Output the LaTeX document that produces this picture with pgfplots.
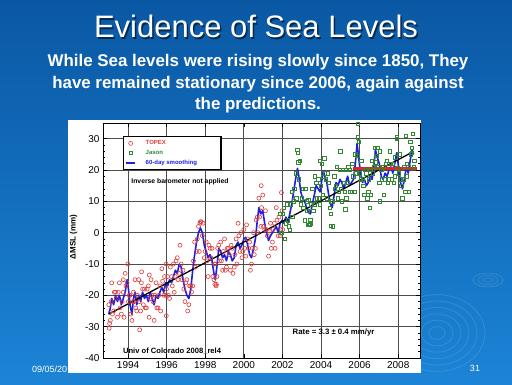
\documentclass[border=0pt]{standalone}
\usepackage{pgfplots}
\pgfplotsset{compat=1.18}
\usepackage{fontspec}
\setmainfont{Liberation Sans}
\definecolor{bgtop}{RGB}{10,88,164}
\definecolor{bgbot}{RGB}{28,132,214}
\definecolor{topex}{RGB}{222,60,60}
\definecolor{jason}{RGB}{50,135,50}
\definecolor{smoothblue}{RGB}{30,30,225}
\definecolor{rateline}{RGB}{225,35,35}
\begin{document}
\begin{tikzpicture}
\shade[top color=bgtop, bottom color=bgbot] (0,0) rectangle (512pt,384pt);
\begin{scope}[white, opacity=0.12, line width=0.8pt]
\foreach \r in {8,16,24,32,40,48} {\draw (437pt,51pt) ellipse ({\r pt} and {0.8*\r pt});}
\foreach \r in {5,10,15} {\draw (488pt,104pt) ellipse ({\r pt} and {0.45*\r pt});}
\end{scope}
\node[anchor=base west, text=white, font=\fontsize{9}{10}\selectfont, inner sep=0pt] at (32pt,12pt) {09/05/20};
\node[anchor=base, text=white, font=\fontsize{9}{10}\selectfont, inner sep=0pt] at (475pt,13pt) {31};
\fill[white] (68pt,11pt) rectangle (421pt,264pt);
\node[anchor=base, text=black, opacity=0.55, font=\fontsize{31}{36}\selectfont, inner sep=0pt] at (257.5pt,344.5pt) {Evidence of Sea Levels};
\node[anchor=base, text=white, font=\fontsize{31}{36}\selectfont, inner sep=0pt] at (256pt,346pt) {Evidence of Sea Levels};
\node[anchor=base, text=white, font=\bfseries\fontsize{16.9}{18}\selectfont, inner sep=0pt] at (258pt,318pt) {While Sea levels were rising slowly since 1850, They};
\node[anchor=base, text=white, font=\bfseries\fontsize{16.9}{18}\selectfont, inner sep=0pt] at (258pt,296pt) {have remained stationary since 2006, again against};
\node[anchor=base, text=white, font=\bfseries\fontsize{16.9}{18}\selectfont, inner sep=0pt] at (258pt,275pt) {the predictions.};
\begin{axis}[
  at={(103pt,26pt)}, anchor=south west, scale only axis,
  width=317pt, height=235pt,
  xmin=1992.7, xmax=2009.13, ymin=-40, ymax=35,
  xtick={1994,1996,...,2008}, ytick={-40,-30,...,30},
  minor x tick num=7, minor y tick num=4,
  xmajorgrids, ymajorgrids,
  major grid style={draw=black!70, line width=0.7pt},
  axis line style={line width=0.8pt},
  every tick/.style={black, line width=0.6pt},
  major tick length=4pt, minor tick length=2pt,
  tick align=inside,
  ticklabel style={font=\fontsize{10}{11}\selectfont},
  /pgf/number format/assume math mode=true,
  /pgf/number format/1000 sep={},
  ylabel={ΔMSL (mm)},
  ylabel style={font=\bfseries\fontsize{8}{9}\selectfont, at={(axis description cs:-0.093,0.515)}, anchor=center},
  legend style={at={(rel axis cs:0.063,0.945)}, anchor=north west, draw=black, line width=1.2pt,
    font=\bfseries\fontsize{6}{7}\selectfont, row sep=0pt, inner sep=2pt,
    /tikz/every odd column/.append style={column sep=8pt}},
  legend cell align=left,
]
\addplot[only marks, mark=o, mark size=2pt, mark options={draw=topex, line width=0.6pt}] coordinates {
(1993.00,-23) (1993.08,-28) (1993.15,-16) (1993.25,-25) (1993.35,-19) (1993.45,-27) (1993.55,-16) (1993.65,-26) (1993.75,-19) (1993.85,-13)
(1993.95,-16) (1994.02,-22) (1994.10,-20) (1994.20,-28) (1994.28,-19) (1994.36,-15) (1994.45,-25) (1994.55,-15) (1994.65,-25) (1994.75,-18)
(1994.85,-18) (1994.95,-24) (1995.05,-17) (1995.15,-21) (1995.25,-20) (1995.35,-28) (1995.45,-16) (1995.55,-24) (1995.65,-17) (1995.75,-11.5)
(1995.85,-20) (1995.95,-20) (1996.05,-14) (1996.15,-21) (1996.25,-14) (1996.35,-10) (1996.45,-14) (1996.55,-8) (1996.65,-13) (1996.75,-10)
(1996.85,-12) (1996.95,-22) (1997.05,-15) (1997.15,-23) (1997.25,-17) (1997.35,-17) (1997.45,-3) (1997.55,-6) (1997.65,2) (1997.75,3.5)
(1997.85,-1) (1997.95,-8) (1998.05,-3) (1998.15,-14) (1998.25,-5) (1998.35,-5) (1998.45,-15) (1998.52,-10) (1998.60,-14) (1998.70,-4)
(1998.80,-3) (1998.90,-12) (1999.00,-2) (1999.10,-11) (1999.20,-5) (1999.30,-12) (1999.40,-5) (1999.50,-11) (1999.60,-2) (1999.70,3)
(1999.80,-6) (1999.90,-8) (2000.00,1) (2000.10,-7.5) (2000.20,-2) (2000.30,-3) (2000.40,-10) (2000.50,0) (2000.60,-5) (2000.70,5)
(2000.78,11) (2000.88,2) (2000.98,12) (2001.08,1) (2001.18,1) (2001.28,-7.5) (2001.38,3) (2001.48,-3) (2001.58,3) (2001.68,8)
(2001.78,-1) (2001.88,-1) (2001.98,7)
(1993.04,-29) (1993.12,-22) (1993.19,-26) (1993.29,-19) (1993.39,-21) (1993.49,-19) (1993.59,-24) (1993.69,-22) (1993.79,-27) (1993.89,-17)
(1993.99,-10) (1994.06,-20) (1994.14,-26) (1994.24,-22) (1994.32,-22) (1994.40,-24) (1994.49,-20) (1994.59,-22) (1994.69,-16) (1994.79,-23)
(1994.89,-24) (1994.99,-18) (1995.09,-27) (1995.19,-15) (1995.29,-22) (1995.39,-20) (1995.49,-24) (1995.59,-20) (1995.69,-25) (1995.79,-15.5)
(1995.89,-14) (1995.99,-18) (1996.09,-20) (1996.19,-11) (1996.29,-17) (1996.39,-19) (1996.49,-9) (1996.59,-15) (1996.69,-4) (1996.79,-15)
(1996.89,-18) (1996.99,-16) (1997.09,-25) (1997.19,-17) (1997.29,-19) (1997.39,-9) (1997.49,-11) (1997.59,-2) (1997.69,-6) (1997.79,3.5)
(1997.89,3) (1997.99,-6) (1998.09,-9) (1998.19,-4) (1998.29,-8) (1998.39,-14) (1998.49,-10) (1998.56,-17) (1998.64,-5) (1998.74,-9)
(1998.84,-9) (1998.94,-6) (1999.04,-12) (1999.14,-5) (1999.24,-7) (1999.34,-4) (1999.44,-13) (1999.54,-7) (1999.64,-10) (1999.74,-1)
(1999.84,0) (1999.94,-6) (2000.04,-5) (2000.14,2.5) (2000.24,-5) (2000.34,-12) (2000.44,-5) (2000.54,-7) (2000.64,4) (2000.74,0)
(2000.82,5) (2000.92,8) (2001.02,2) (2001.12,7) (2001.22,-1) (2001.32,0.5) (2001.42,-5) (2001.52,1) (2001.62,-5) (2001.72,4)
(2001.82,5) (2001.92,1) (2002.02,1)
(1993.02,-30.5) (1994.60,-31) (1995.98,-26.5) (1995.97,-10) (2000.90,15) (2001.95,12.8) (1997.72,3) (1998.58,-16.5)
(1994.70,-12.5) (1995.10,-13.5) (1993.75,-15) (1998.50,-16.5)
};
\addlegendentry{\textcolor{topex}{TOPEX}}
\addplot[only marks, mark=square, mark size=1.7pt, mark options={draw=jason, line width=0.6pt}] coordinates {
(2001.88,6) (2001.98,0) (2002.08,8) (2002.18,3) (2002.28,4) (2002.38,1) (2002.48,13) (2002.58,10) (2002.68,19) (2002.78,26.5)
(2002.85,17) (2002.95,9) (2003.05,14) (2003.15,4) (2003.25,10) (2003.35,10.5) (2003.45,4) (2003.55,14) (2003.65,9) (2003.75,16)
(2003.85,17) (2003.95,9) (2004.05,22) (2004.12,17.8) (2004.20,19) (2004.30,11) (2004.40,16) (2004.50,6) (2004.58,10) (2004.68,18)
(2004.78,15) (2004.88,11) (2004.98,20) (2005.08,10) (2005.18,16) (2005.28,20) (2005.38,16) (2005.48,20) (2005.58,13) (2005.68,18)
(2005.78,25) (2005.87,24.5) (2005.95,29) (2006.05,17) (2006.15,17) (2006.25,12) (2006.35,19) (2006.45,13) (2006.55,20) (2006.65,23)
(2006.75,21) (2006.82,22.5) (2006.92,27) (2007.02,16) (2007.12,20) (2007.22,21) (2007.32,17) (2007.42,23) (2007.52,17) (2007.62,22)
(2007.72,22) (2007.82,18) (2007.92,30.5) (2008.02,19) (2008.12,17) (2008.22,11) (2008.32,21) (2008.42,18) (2008.52,21) (2008.62,29)
(2008.72,25.5) (2008.80,21)
(2001.92,0) (2002.02,6) (2002.12,-2) (2002.22,9) (2002.32,2) (2002.42,9) (2002.52,5) (2002.62,14) (2002.72,11) (2002.82,22.5)
(2002.89,23) (2002.99,11) (2003.09,8) (2003.19,14) (2003.29,7) (2003.39,2.5) (2003.49,9) (2003.59,7) (2003.69,18) (2003.79,11)
(2003.89,11) (2003.99,15) (2004.09,12) (2004.16,23.8) (2004.24,17) (2004.34,19) (2004.44,8) (2004.54,10) (2004.62,2) (2004.72,14)
(2004.82,21) (2004.92,13) (2005.02,14) (2005.12,20) (2005.22,13) (2005.32,11) (2005.42,21) (2005.52,13) (2005.62,22) (2005.72,13)
(2005.82,19) (2005.91,30.5) (2005.99,19) (2006.09,23) (2006.19,15) (2006.29,20) (2006.39,11) (2006.49,17) (2006.59,12) (2006.69,19)
(2006.79,27) (2006.86,24.5) (2006.96,21) (2007.06,26) (2007.16,17) (2007.26,12) (2007.36,22) (2007.46,16) (2007.56,26) (2007.66,17)
(2007.76,16) (2007.86,24) (2007.96,20.5) (2008.06,25) (2008.16,15) (2008.26,17) (2008.36,13) (2008.46,22) (2008.56,13) (2008.66,25)
(2008.76,31.5) (2008.84,23)
(2005.90,34.8) (2003.95,23) (2005.00,26) (2004.50,2.2) (2004.60,2) (2005.25,7.5) (2006.52,8) (2007.05,10) (2008.40,31)
(2007.93,30) (2008.70,27) (2003.35,2.5) (2003.45,3) (2002.80,25.5)
};
\addlegendentry{\textcolor{jason}{Jason}}
\addplot[draw=smoothblue, line width=1.6pt, line join=round,
  legend image code/.code={\draw[draw=smoothblue, line width=1.6pt] (0.15cm,0cm) -- (0.45cm,0cm);}] coordinates {
(1993.00,-26) (1993.08,-24) (1993.15,-21) (1993.25,-23) (1993.35,-20) (1993.45,-22) (1993.55,-20) (1993.65,-23) (1993.75,-21) (1993.85,-19)
(1993.95,-15) (1994.02,-18) (1994.10,-23) (1994.20,-26) (1994.28,-21) (1994.36,-19) (1994.45,-23) (1994.55,-20) (1994.65,-22) (1994.75,-19)
(1994.85,-21) (1994.95,-20) (1995.05,-22) (1995.15,-19) (1995.25,-21) (1995.35,-23) (1995.45,-20) (1995.55,-21) (1995.65,-19) (1995.75,-17.5)
(1995.85,-19) (1995.95,-16) (1996.05,-17) (1996.15,-15) (1996.25,-16) (1996.35,-14) (1996.45,-12) (1996.55,-13) (1996.65,-10) (1996.75,-11)
(1996.85,-15) (1996.95,-18) (1997.05,-20) (1997.15,-21) (1997.25,-18) (1997.35,-12) (1997.45,-7) (1997.55,-3) (1997.65,0) (1997.75,1.5)
(1997.85,0) (1997.95,-4) (1998.05,-6) (1998.15,-8) (1998.25,-7) (1998.35,-9) (1998.45,-13) (1998.52,-15) (1998.60,-11) (1998.70,-5)
(1998.80,-6) (1998.90,-8) (1999.00,-7) (1999.10,-9) (1999.20,-6) (1999.30,-7) (1999.40,-9) (1999.50,-8) (1999.60,-4) (1999.70,-3)
(1999.80,-5) (1999.90,-4) (2000.00,-2) (2000.10,-1.5) (2000.20,-4) (2000.30,-7) (2000.40,-8) (2000.50,-5) (2000.60,-2) (2000.70,4)
(2000.78,8) (2000.88,6) (2000.98,7) (2001.08,3) (2001.18,0) (2001.28,-2.5) (2001.38,-1) (2001.48,0) (2001.58,1) (2001.68,2)
(2001.78,0) (2001.88,3) (2001.98,4) (2002.08,3) (2002.18,5) (2002.28,3) (2002.38,6) (2002.48,9) (2002.58,13) (2002.68,17)
(2002.78,20.5) (2002.85,18) (2002.95,13) (2003.05,11) (2003.15,10) (2003.25,8) (2003.35,6.5) (2003.45,6) (2003.55,9) (2003.65,12)
(2003.75,15) (2003.85,14) (2003.95,13) (2004.05,17) (2004.12,19.8) (2004.20,18) (2004.30,16) (2004.40,12) (2004.50,9) (2004.58,8)
(2004.68,12) (2004.78,16) (2004.88,15) (2004.98,17) (2005.08,16) (2005.18,14) (2005.28,16) (2005.38,18) (2005.48,15) (2005.58,16)
(2005.68,17) (2005.78,22) (2005.87,28.5) (2005.95,24) (2006.05,19) (2006.15,16) (2006.25,17) (2006.35,15) (2006.45,16) (2006.55,18)
(2006.65,17) (2006.75,22) (2006.82,26.5) (2006.92,24) (2007.02,22) (2007.12,18) (2007.22,17) (2007.32,19) (2007.42,18) (2007.52,20)
(2007.62,21) (2007.72,19) (2007.82,22) (2007.92,25.5) (2008.02,21) (2008.12,16) (2008.22,14) (2008.32,17) (2008.42,21) (2008.52,19)
(2008.62,23) (2008.72,26.5) (2008.80,25)
};
\addlegendentry{\textcolor{smoothblue}{60-day smoothing}\rule{20pt}{0pt}}
\addplot[black, line width=1.3pt, forget plot] coordinates {(1993.0,-26) (2008.7,25.6)};
\addplot[rateline, line width=2.6pt, forget plot] coordinates {(2005.65,20.4) (2008.98,20.4)};
\node[font=\bfseries\fontsize{6.8}{8}\selectfont] at (axis cs:1996.69,16.1) {Inverse barometer not applied};
\node[font=\bfseries\fontsize{7.8}{9}\selectfont] at (axis cs:2004.65,-31.85) {Rate = 3.3 ± 0.4 mm/yr};
\node[font=\bfseries\fontsize{7.6}{9}\selectfont] at (axis cs:1996.28,-37.7) {Univ of Colorado 2008\_rel4};
\end{axis}
\pgfresetboundingbox
\path[use as bounding box] (0,0) rectangle (512pt,384pt);
\end{tikzpicture}
\end{document}
